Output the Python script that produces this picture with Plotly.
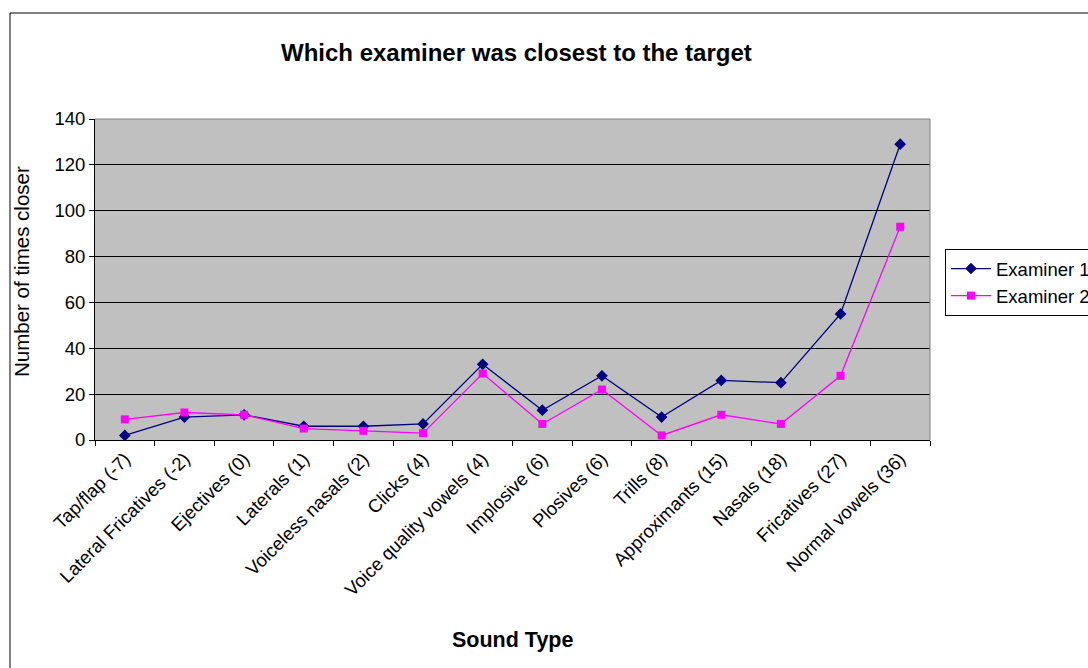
import plotly.graph_objects as go

categories = ["Tap/flap (-7)", "Lateral Fricatives (-2)", "Ejectives (0)", "Laterals (1)",
              "Voiceless nasals (2)", "Clicks (4)", "Voice quality vowels (4)", "Implosive (6)",
              "Plosives (6)", "Trills (8)", "Approximants (15)", "Nasals (18)",
              "Fricatives (27)", "Normal vowels (36)"]
examiner1 = [2, 10, 11, 6, 6, 7, 33, 13, 28, 10, 26, 25, 55, 129]
examiner2 = [9, 12, 11, 5, 4, 3, 29, 7, 22, 2, 11, 7, 28, 93]
y_ticks = [0, 20, 40, 60, 80, 100, 120, 140]

W, H = 1088, 668
L, R, T, B = 95, 930, 119, 440  # plot area in pixels


def px(x):
    return (x - L) / (R - L)


def py(y):
    return (B - y) / (B - T)


FONT = "Arial, Liberation Sans, sans-serif"
TICK = 18.5

fig = go.Figure()
fig.add_trace(go.Scatter(
    x=categories, y=examiner1, mode="lines+markers", name="Examiner 1",
    line=dict(color="#000080", width=1.3),
    marker=dict(symbol="diamond", size=9, color="#000080"),
))
fig.add_trace(go.Scatter(
    x=categories, y=examiner2, mode="lines+markers", name="Examiner 2",
    line=dict(color="#FF00FF", width=1.3),
    marker=dict(symbol="square", size=8, color="#FF00FF"),
))

fig.update_layout(
    width=W, height=H,
    margin=dict(l=L, r=W - R, t=T, b=H - B, autoexpand=False),
    paper_bgcolor="white",
    plot_bgcolor="#C0C0C0",
    font=dict(family=FONT, size=TICK, color="black"),
    showlegend=True,
    legend=dict(
        x=px(945), y=py(249), xanchor="left", yanchor="top",
        bordercolor="black", borderwidth=1, bgcolor="white",
        font=dict(family=FONT, size=TICK, color="black"),
        tracegroupgap=0, itemwidth=40,
    ),
    xaxis=dict(
        type="category", range=[-0.5, len(categories) - 0.5],
        tickangle=-45, tickson="boundaries", ticks="outside", ticklen=5,
        tickcolor="black", showline=True, linecolor="black", linewidth=1,
        showgrid=False, tickfont=dict(family=FONT, size=TICK, color="black"),
    ),
    yaxis=dict(
        range=[0, 140], tickvals=y_ticks, ticks="outside", ticklen=5,
        tickcolor="black", showline=True, linecolor="black", linewidth=1,
        showgrid=True, gridcolor="black", gridwidth=1, zeroline=False,
        tickfont=dict(family=FONT, size=TICK, color="black"),
    ),
    shapes=[
        # gray frame of plot area (top/right)
        dict(type="line", xref="paper", yref="paper", x0=0, x1=1, y0=1, y1=1,
             line=dict(color="#808080", width=1)),
        dict(type="line", xref="paper", yref="paper", x0=1, x1=1, y0=0, y1=1,
             line=dict(color="#808080", width=1)),
        # outer chart border
        dict(type="line", xref="paper", yref="paper", x0=px(10), x1=px(10),
             y0=py(13), y1=py(700), line=dict(color="black", width=1)),
        dict(type="line", xref="paper", yref="paper", x0=px(10), x1=px(1100),
             y0=py(13), y1=py(13), line=dict(color="black", width=1)),
    ],
    annotations=[
        dict(text="<b>Which examiner was closest to the target</b>", xref="paper", yref="paper",
             x=px(516), y=py(52), xanchor="center", yanchor="middle", showarrow=False,
             font=dict(family=FONT, size=24, color="black")),
        dict(text="Number of times closer", xref="paper", yref="paper",
             x=px(21), y=py(272), xanchor="center", yanchor="middle", showarrow=False,
             textangle=-90, font=dict(family=FONT, size=20.5, color="black")),
        dict(text="<b>Sound Type</b>", xref="paper", yref="paper",
             x=px(512), y=py(640), xanchor="center", yanchor="middle", showarrow=False,
             font=dict(family=FONT, size=21.5, color="black")),
    ],
)

fig.write_html("out.html")
